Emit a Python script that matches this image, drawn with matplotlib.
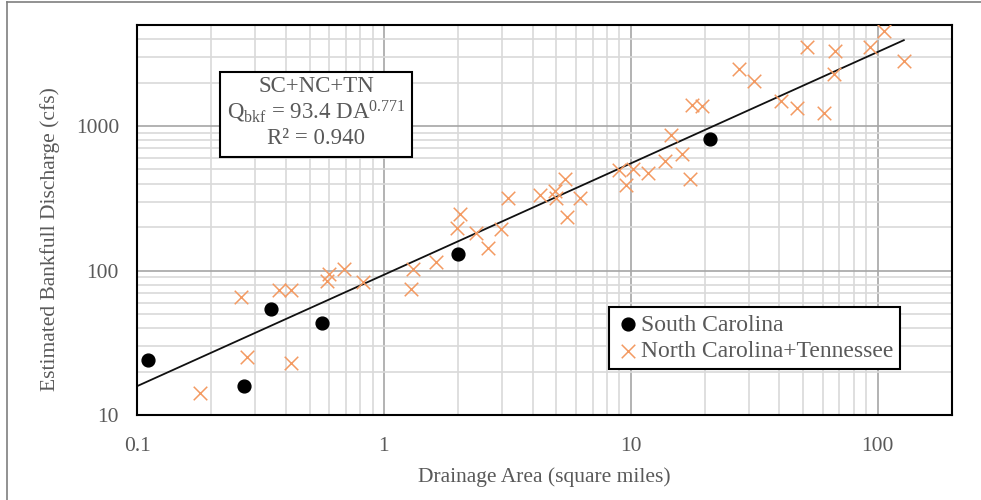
import matplotlib
matplotlib.use("Agg")
import matplotlib.pyplot as plt
import numpy as np
from matplotlib.lines import Line2D
from matplotlib.patches import Rectangle

plt.rcParams['font.family'] = ['Liberation Serif', 'DejaVu Serif']
plt.rcParams['mathtext.fontset'] = 'custom'
plt.rcParams['mathtext.rm'] = 'Liberation Serif'
plt.rcParams['mathtext.it'] = 'Liberation Serif:italic'

# South Carolina
sc_area = [0.111, 0.27, 0.35, 0.56, 2.0, 21.0]
sc_q = [24, 16, 54, 43.5, 130, 810]

# North Carolina + Tennessee
nc_area = [0.18, 0.265, 0.28, 0.375, 0.42, 0.42, 0.60, 0.59, 0.69, 0.82,
           1.31, 1.29, 1.62, 1.97, 2.03, 2.35, 2.65, 2.98, 3.17, 4.3,
           4.93, 4.97, 5.4, 5.54, 6.2, 8.96, 9.54, 10.2, 11.7, 13.8,
           14.5, 16.1, 17.4, 17.7, 19.5, 27.5, 31.6, 40.6, 47.1, 51.8,
           60.5, 67.4, 66.4, 92.7, 106, 127.6]
nc_q = [14.2, 66, 25, 73, 73, 23, 94, 84, 103, 83,
        103, 74, 114, 198, 245, 181, 143, 195, 316, 332,
        356, 315, 428, 234, 316, 495, 389, 502, 476, 569,
        870, 640, 433, 1400, 1370, 2490, 2060, 1480, 1330, 3520,
        1225, 3280, 2300, 3520, 4550, 2800]

# Regression
coef = 93.4
expo = 0.771
fit_range = [0.1, 127.6]

x_ticks = [0.1, 1, 10, 100]
x_ticklabels = ['0.1', '1', '10', '100']
y_ticks = [10, 100, 1000]
y_ticklabels = ['10', '100', '1000']

txtcol = '#595959'
orange = '#f39a62'

fig = plt.figure(figsize=(9.81, 5.0), dpi=100)
W, H = 981, 500
ax = fig.add_axes([137 / W, 1 - 415 / H, (952 - 137) / W, (415 - 25) / H])
ax.set_xscale('log')
ax.set_yscale('log')
ax.set_xlim(0.1, 200)
ax.set_ylim(10, 5000)

# grids
ax.grid(which='major', color='#a6a6a6', linewidth=1.2, zorder=0)
ax.grid(which='minor', color='#d9d9d9', linewidth=1.2, zorder=0)
ax.set_axisbelow(True)
ax.tick_params(which='both', length=0)
ax.set_xticks(x_ticks)
ax.set_xticklabels(x_ticklabels)
ax.set_yticks(y_ticks)
ax.set_yticklabels(y_ticklabels)
ax.tick_params(axis='both', labelsize=15.5, labelcolor=txtcol)
ax.tick_params(axis='x', pad=16)
ax.tick_params(axis='y', pad=13)
ax.xaxis.set_minor_formatter(matplotlib.ticker.NullFormatter())
ax.yaxis.set_minor_formatter(matplotlib.ticker.NullFormatter())
for s in ax.spines.values():
    s.set_color('#000000')
    s.set_linewidth(1.5)

# fit line
xf = np.logspace(np.log10(fit_range[0]), np.log10(fit_range[1]), 200)
ax.plot(xf, coef * xf ** expo, color='#111111', linewidth=1.3, zorder=2)

ax.scatter(sc_area, sc_q, s=85, color='black', zorder=3, label='South Carolina')
ax.scatter(nc_area, nc_q, s=95, marker='x', color=orange, linewidths=1.1, zorder=3,
           label='North Carolina+Tennessee')

ax.set_xlabel('Drainage Area (square miles)', fontsize=15.5, color=txtcol, labelpad=8)
ax.set_ylabel('Estimated Bankfull Discharge (cfs)', fontsize=15.5, color=txtcol)
ax.yaxis.set_label_coords((60 - 137) / 815, (415 - 239) / 390)

leg = ax.legend(loc='upper left', bbox_to_anchor=((609 - 137) / 815, (415 - 307) / 390),
                borderaxespad=0, fancybox=False, edgecolor='black', fontsize=17,
                handlelength=1.0, handletextpad=0.05, borderpad=0.3, labelspacing=0.2,
                framealpha=1, scatterpoints=1)
leg.get_frame().set_linewidth(1.5)
for t in leg.get_texts():
    t.set_color(txtcol)

# equation box
fig.patches.append(Rectangle((220 / W, 1 - 157 / H), (412 - 220) / W, (157 - 72) / H,
                             transform=fig.transFigure, facecolor='white',
                             edgecolor='black', linewidth=1.5, zorder=5))
cx = 316 / W
fig.text(cx, 1 - 87 / H, 'SC+NC+TN', ha='center', va='center', fontsize=16.5,
         color=txtcol, zorder=6)
fig.text(cx, 1 - 112 / H, r'Q$_{\mathrm{bkf}}$ = 93.4 DA$^{\mathrm{0.771}}$', ha='center',
         va='center', fontsize=16.5, color=txtcol, zorder=6)
fig.text(cx, 1 - 139 / H, 'R² = 0.940', ha='center', va='center', fontsize=16.5,
         color=txtcol, zorder=6)

# outer frame lines (left and top)
fig.add_artist(Line2D([7 / W, 7 / W], [0, 1 - 2 / H], transform=fig.transFigure,
                      color='#7f7f7f', linewidth=1.2))
fig.add_artist(Line2D([7 / W, 1], [1 - 2 / H, 1 - 2 / H], transform=fig.transFigure,
                      color='#7f7f7f', linewidth=1.2))

fig.savefig('out.png', dpi=100)
